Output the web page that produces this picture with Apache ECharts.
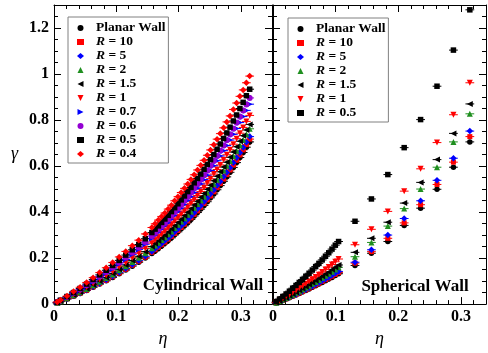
<!DOCTYPE html>
<html>
<head>
<meta charset="utf-8">
<title>gamma vs eta</title>
<script src="https://cdn.jsdelivr.net/npm/echarts/dist/echarts.min.js"></script>
</head>
<body style="margin:0;padding:0">
<div id="main" style="width:488px;height:353px;"></div>
<script type="text/javascript">
// packing fraction, cylindrical wall runs
var etaCyl = [0.0052,0.0105,0.0209,0.0314,0.0419,0.0524,0.0628,0.0733,0.0838,0.0942,0.1047,0.1152,0.1257,0.1361,0.1466,0.1571,
  0.1623,0.1676,0.1728,0.1780,0.1833,0.1885,0.1937,0.1990,0.2042,0.2094,0.2147,0.2199,0.2251,0.2304,0.2356,
  0.2409,0.2461,0.2513,0.2566,0.2618,0.2670,0.2723,0.2775,0.2827,0.2880,0.2932,0.2985,0.3037,0.3089,0.3142];
var cylPlanar = [0.005,0.011,0.022,0.034,0.046,0.059,0.073,0.087,0.101,0.116,0.132,0.148,0.165,0.182,0.200,0.220,0.231,0.242,0.253,0.264,0.276,0.288,0.301,0.314,0.327,0.340,0.354,0.368,0.383,0.398,0.413,0.429,0.445,0.462,0.479,0.497,0.515,0.534,0.553,0.573,0.594,0.615,0.637,0.659,0.682,0.705];
var cylR10 = [0.005,0.011,0.023,0.035,0.047,0.060,0.075,0.089,0.103,0.119,0.135,0.151,0.169,0.186,0.204,0.225,0.236,0.247,0.258,0.269,0.282,0.294,0.307,0.320,0.333,0.347,0.361,0.375,0.390,0.405,0.421,0.437,0.453,0.470,0.488,0.506,0.524,0.543,0.563,0.583,0.604,0.625,0.648,0.670,0.693,0.717];
var cylR5 = [0.006,0.012,0.023,0.036,0.048,0.062,0.076,0.091,0.106,0.121,0.138,0.155,0.172,0.190,0.208,0.229,0.241,0.252,0.263,0.275,0.287,0.299,0.313,0.326,0.340,0.353,0.368,0.382,0.397,0.413,0.428,0.445,0.461,0.479,0.496,0.515,0.533,0.553,0.572,0.593,0.614,0.636,0.658,0.681,0.704,0.728];
var cylR2 = [0.006,0.012,0.025,0.038,0.052,0.066,0.082,0.097,0.113,0.129,0.147,0.164,0.183,0.201,0.221,0.243,0.255,0.267,0.279,0.291,0.304,0.316,0.331,0.345,0.359,0.373,0.388,0.403,0.419,0.435,0.451,0.468,0.485,0.504,0.522,0.541,0.560,0.581,0.601,0.622,0.644,0.667,0.690,0.714,0.738,0.762];
var cylR15 = [0.006,0.013,0.026,0.040,0.053,0.068,0.084,0.100,0.116,0.133,0.151,0.170,0.189,0.208,0.228,0.250,0.263,0.275,0.287,0.299,0.313,0.326,0.340,0.355,0.369,0.384,0.399,0.414,0.431,0.447,0.464,0.481,0.499,0.517,0.536,0.556,0.575,0.596,0.617,0.638,0.661,0.684,0.708,0.732,0.757,0.781];
var cylR1 = [0.007,0.014,0.027,0.042,0.057,0.073,0.090,0.107,0.124,0.142,0.161,0.180,0.201,0.221,0.242,0.265,0.278,0.291,0.304,0.317,0.331,0.345,0.360,0.375,0.390,0.405,0.421,0.438,0.455,0.472,0.489,0.507,0.526,0.545,0.565,0.585,0.605,0.627,0.649,0.671,0.695,0.719,0.743,0.768,0.794,0.820];
var cylR07 = [0.007,0.015,0.030,0.046,0.062,0.079,0.097,0.116,0.134,0.153,0.174,0.194,0.216,0.237,0.260,0.285,0.299,0.312,0.326,0.340,0.354,0.369,0.385,0.401,0.417,0.433,0.450,0.467,0.485,0.504,0.522,0.541,0.560,0.581,0.601,0.623,0.644,0.667,0.689,0.713,0.738,0.763,0.789,0.815,0.842,0.869];
var cylR06 = [0.008,0.016,0.031,0.048,0.064,0.082,0.101,0.120,0.139,0.159,0.181,0.202,0.224,0.246,0.270,0.296,0.310,0.324,0.338,0.352,0.368,0.383,0.399,0.416,0.432,0.449,0.466,0.484,0.503,0.521,0.540,0.560,0.580,0.601,0.622,0.644,0.666,0.689,0.712,0.737,0.762,0.788,0.814,0.841,0.868,0.896];
var cylR05 = [0.008,0.017,0.033,0.050,0.068,0.087,0.107,0.127,0.147,0.168,0.190,0.213,0.236,0.259,0.284,0.311,0.326,0.340,0.355,0.370,0.386,0.402,0.419,0.436,0.453,0.470,0.489,0.507,0.527,0.546,0.565,0.586,0.607,0.628,0.650,0.673,0.696,0.720,0.744,0.769,0.796,0.822,0.850,0.877,0.906,0.934];
var cylR04 = [0.009,0.018,0.035,0.055,0.073,0.094,0.115,0.137,0.158,0.181,0.205,0.229,0.254,0.278,0.305,0.333,0.349,0.365,0.381,0.396,0.413,0.430,0.449,0.467,0.485,0.503,0.522,0.542,0.562,0.583,0.603,0.625,0.647,0.670,0.693,0.717,0.741,0.766,0.792,0.818,0.846,0.874,0.903,0.931,0.962,0.991];

// packing fraction, spherical wall runs
var etaSph = [0.0052,0.0105,0.0157,0.0209,0.0262,0.0314,0.0367,0.0419,0.0471,0.0524,0.0576,0.0628,0.0681,0.0733,0.0785,0.0838,0.0890,0.0942,0.0995,0.1047,
  0.1309,0.1571,0.1833,0.2094,0.2356,0.2618,0.2880,0.3142];
var sphPlanar = [0.005,0.011,0.016,0.022,0.028,0.034,0.040,0.046,0.053,0.059,0.066,0.073,0.080,0.087,0.094,0.101,0.109,0.116,0.124,0.132,0.168,0.221,0.272,0.342,0.417,0.499,0.595,0.705];
var sphR10 = [0.006,0.011,0.017,0.023,0.029,0.035,0.042,0.048,0.055,0.062,0.069,0.076,0.083,0.090,0.098,0.106,0.113,0.121,0.129,0.137,0.178,0.228,0.286,0.353,0.432,0.520,0.617,0.728];
var sphR5 = [0.006,0.012,0.018,0.024,0.030,0.036,0.043,0.050,0.057,0.064,0.071,0.078,0.086,0.093,0.101,0.109,0.117,0.125,0.134,0.142,0.182,0.236,0.300,0.372,0.449,0.538,0.634,0.752];
var sphR2 = [0.006,0.013,0.020,0.027,0.034,0.041,0.049,0.056,0.064,0.072,0.080,0.088,0.096,0.105,0.114,0.123,0.132,0.141,0.150,0.160,0.206,0.268,0.339,0.415,0.500,0.595,0.705,0.827];
var sphR15 = [0.007,0.014,0.021,0.028,0.036,0.044,0.052,0.060,0.068,0.077,0.085,0.094,0.103,0.112,0.121,0.131,0.140,0.150,0.160,0.170,0.225,0.286,0.356,0.439,0.529,0.628,0.742,0.870];
var sphR1 = [0.008,0.016,0.024,0.033,0.041,0.050,0.059,0.069,0.078,0.088,0.098,0.108,0.118,0.128,0.139,0.150,0.161,0.172,0.184,0.196,0.258,0.325,0.403,0.491,0.588,0.702,0.823,0.962];
var sphR05 = [0.011,0.022,0.033,0.044,0.056,0.069,0.081,0.094,0.107,0.121,0.134,0.148,0.163,0.177,0.192,0.208,0.223,0.239,0.256,0.272,0.360,0.457,0.563,0.680,0.802,0.947,1.104,1.279];

var etaErr = 0.007;   // half width of the horizontal error bars

var FONT = '"Liberation Serif", "Times New Roman", serif';
var RED = '#ff0000', BLUE = '#0000ff', GREEN = '#1f8f1f', BLACK = '#000000', VIOLET = '#9400d3';
// pointed triangles (legend ignores symbolRotate, so use paths)
var TRI_UP = 'path://M5,0 L10,10 L0,10 Z';
var TRI_LEFT = 'path://M0,5 L10,0 L10,10 Z';
var TRI_DOWN = 'path://M0,0 L10,0 L5,10 Z';
var TRI_RIGHT = 'path://M0,0 L10,5 L0,10 Z';

var cylRuns = [
    { label: 'Planar Wall', data: cylPlanar, color: BLACK, symbol: 'circle', size: 5.5 },
    { label: '10', data: cylR10, color: RED, symbol: 'rect', size: 5 },
    { label: '5', data: cylR5, color: BLUE, symbol: 'diamond', size: 6.5 },
    { label: '2', data: cylR2, color: GREEN, symbol: TRI_UP, size: 6 },
    { label: '1.5', data: cylR15, color: BLACK, symbol: TRI_LEFT, size: 6 },
    { label: '1', data: cylR1, color: RED, symbol: TRI_DOWN, size: 6 },
    { label: '0.7', data: cylR07, color: BLUE, symbol: TRI_RIGHT, size: 6 },
    { label: '0.6', data: cylR06, color: VIOLET, symbol: 'circle', size: 6 },
    { label: '0.5', data: cylR05, color: BLACK, symbol: 'rect', size: 5.5 },
    { label: '0.4', data: cylR04, color: RED, symbol: 'diamond', size: 6.5 }
];
var sphRuns = [
    { label: 'Planar Wall', data: sphPlanar, color: BLACK, symbol: 'circle', size: 5.5 },
    { label: '10', data: sphR10, color: RED, symbol: 'rect', size: 5 },
    { label: '5', data: sphR5, color: BLUE, symbol: 'diamond', size: 6.5 },
    { label: '2', data: sphR2, color: GREEN, symbol: TRI_UP, size: 6 },
    { label: '1.5', data: sphR15, color: BLACK, symbol: TRI_LEFT, size: 6 },
    { label: '1', data: sphR1, color: RED, symbol: TRI_DOWN, size: 6 },
    { label: '0.5', data: sphR05, color: BLACK, symbol: 'rect', size: 5.5 }
];

var series = [];
function addRuns(runs, xs, prefix, axis) {
    runs.forEach(function (r) {
        var pts = xs.map(function (x, i) { return [x, r.data[i]]; });
        series.push({
            type: 'custom', xAxisIndex: axis, yAxisIndex: axis, silent: true,
            data: pts, encode: { x: 0, y: 1 },
            renderItem: function (params, api) {
                var a = api.coord([api.value(0) - etaErr, api.value(1)]);
                var b = api.coord([api.value(0) + etaErr, api.value(1)]);
                return { type: 'line', shape: { x1: a[0], y1: a[1], x2: b[0], y2: b[1] },
                         style: { stroke: r.color, lineWidth: 1 } };
            }
        });
        series.push({
            type: 'scatter', name: prefix + r.label, xAxisIndex: axis, yAxisIndex: axis,
            data: pts, symbol: r.symbol, symbolSize: r.size,
            itemStyle: { color: r.color, opacity: 1 }
        });
    });
}
addRuns(cylRuns, etaCyl, 'c|', 0);
addRuns(sphRuns, etaSph, 's|', 2);

function xAx(grid, pos, max, labels) {
    return {
        type: 'value', gridIndex: grid, position: pos, min: 0, max: max, interval: 0.1,
        axisLine: { show: true, onZero: false, lineStyle: { color: '#000', width: 1 } },
        axisTick: { show: true, inside: true, length: 7, lineStyle: { color: '#000' } },
        minorTick: { show: true, splitNumber: 5, length: 4, lineStyle: { color: '#000' } },
        splitLine: { show: false },
        axisLabel: { show: labels, margin: 5, showMaxLabel: false, color: '#000',
                     fontFamily: FONT, fontWeight: 'bold', fontSize: 16 },
        name: labels ? 'η' : '', nameLocation: 'middle', nameGap: 23,
        nameTextStyle: { fontFamily: FONT, fontStyle: 'italic', fontSize: 18, color: '#000' }
    };
}
function yAx(grid, pos, labels) {
    return {
        type: 'value', gridIndex: grid, position: pos, min: 0, max: 1.3, interval: 0.2,
        axisLine: { show: true, onZero: false, lineStyle: { color: '#000', width: 1 } },
        axisTick: { show: true, inside: true, length: 7, lineStyle: { color: '#000' } },
        minorTick: { show: true, splitNumber: 4, length: 4, lineStyle: { color: '#000' } },
        splitLine: { show: false },
        axisLabel: { show: labels, margin: 5, showMaxLabel: false, color: '#000',
                     fontFamily: FONT, fontWeight: 'bold', fontSize: 16 },
        name: labels ? 'γ' : '', nameLocation: 'middle', nameGap: 36, nameRotate: 0,
        nameTextStyle: { fontFamily: FONT, fontStyle: 'italic', fontSize: 18, color: '#000' }
    };
}

function legendFor(prefix, runs, left, top) {
    return {
        data: runs.map(function (r) { return { name: prefix + r.label, icon: r.symbol }; }),
        orient: 'vertical', left: left, top: top, selectedMode: false,
        padding: [4, 3, 2, 9], itemGap: 0, itemWidth: 7, itemHeight: 6,
        borderColor: '#808080', borderWidth: 1, backgroundColor: '#fff',
        formatter: function (name) {
            var t = name.split('|')[1];
            return t === 'Planar Wall' ? '{s| }{b|Planar Wall}' : '{s| }{i|R}{b| = ' + t + '}';
        },
        textStyle: {
            color: '#000', lineHeight: 13.9,
            rich: {
                s: { width: 7, fontSize: 13.5, lineHeight: 13.9 },
                b: { fontFamily: FONT, fontWeight: 'bold', fontSize: 13.5, lineHeight: 13.9 },
                i: { fontFamily: FONT, fontWeight: 'bold', fontStyle: 'italic', fontSize: 13.5, lineHeight: 13.9 }
            }
        }
    };
}

var chart = echarts.init(document.getElementById('main'));
var option = {
    animation: false,
    backgroundColor: '#fff',
    grid: [
        { left: 54, right: 216, top: 5, bottom: 42 },
        { left: 273, right: 2, top: 5, bottom: 42 }
    ],
    xAxis: [xAx(0, 'bottom', 0.35, true), xAx(0, 'top', 0.35, false),
            xAx(1, 'bottom', 0.34, true), xAx(1, 'top', 0.34, false)],
    yAxis: [yAx(0, 'left', true), yAx(0, 'right', false),
            yAx(1, 'left', false), yAx(1, 'right', false)],
    legend: [legendFor('c|', cylRuns, 68, 17), legendFor('s|', sphRuns, 288, 18)],
    graphic: [
        { type: 'text', x: 203, y: 286, style: { text: 'Cylindrical Wall', font: 'bold 17px ' + FONT,
          fill: '#000', align: 'center', verticalAlign: 'middle' } },
        { type: 'text', x: 415, y: 287, style: { text: 'Spherical Wall', font: 'bold 17px ' + FONT,
          fill: '#000', align: 'center', verticalAlign: 'middle' } }
    ],
    series: series
};
chart.setOption(option);
</script>
</body>
</html>
